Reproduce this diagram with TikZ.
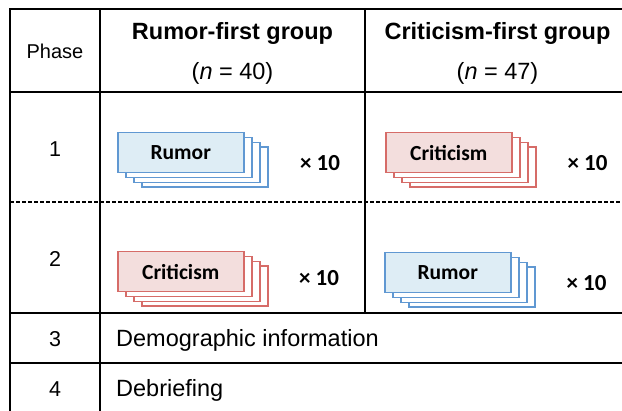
\documentclass[tikz,border=0pt]{standalone}
\usepackage{fontspec}
\setmainfont{Liberation Sans}
\newfontfamily\carlito{Carlito}
\definecolor{bluebd}{RGB}{96,152,210}
\definecolor{bluefill}{RGB}{222,237,245}
\definecolor{redbd}{RGB}{214,108,104}
\definecolor{redfill}{RGB}{243,222,221}
\tikzset{
  grid/.style={line width=1.6pt, black},
  card/.style={draw, line width=1.5pt, fill=white, anchor=north west,
    minimum width=126pt, minimum height=40pt, inner sep=0pt,
    font=\carlito\bfseries\fontsize{21.5}{24}\selectfont},
  bluecard/.style={card, draw=bluebd},
  redcard/.style={card, draw=redbd},
  times/.style={font=\carlito\bfseries\fontsize{23}{26}\selectfont, inner sep=0pt},
  head/.style={font=\bfseries\fontsize{23.5}{27}\selectfont, anchor=base, inner sep=0pt},
  txt/.style={font=\fontsize{23.5}{27}\selectfont, anchor=base, inner sep=0pt},
  num/.style={font=\fontsize{21.5}{25}\selectfont, anchor=base, inner sep=0pt},
}
\newcommand\cardstack[6]{%
  \node[#4] (#1c) at (#2+24,#3+14.4) {};
  \node[#4] (#1b) at (#2+16,#3+9.6) {};
  \node[#4] (#1a) at (#2+8,#3+4.8) {};
  \node[#4, fill=#5] (#1) at (#2,#3) {#6};
}
\begin{document}
\begin{tikzpicture}[x=1pt, y=-1pt]
\useasboundingbox (0,0) rectangle (622,411);
% table lines
\draw[grid] (10,9) -- (622,9);
\draw[grid] (10,92) -- (622,92);
\draw[grid, dash pattern=on 4pt off 2pt] (10,202) -- (622,202);
\draw[grid] (10,313) -- (622,313);
\draw[grid] (10,363) -- (622,363);
\draw[grid] (10,8.2) -- (10,411);
\draw[grid] (100,8.2) -- (100,411);
\draw[grid] (365,8.2) -- (365,313);
% header
\node[font=\fontsize{20}{24}\selectfont, anchor=base, inner sep=0pt] (phase) at (55,58.5) {Phase};
\node[head] (hrf) at (232.5,40) {Rumor-first group};
\node[txt] (nrf) at (232.5,80) {(\textit{n} = 40)};
\node[head] (hcf) at (497.5,40) {Criticism-first group};
\node[txt] (ncf) at (497.5,80) {(\textit{n} = 47)};
% phase numbers
\node[num] (p1) at (55,157) {1};
\node[num] (p2) at (55,267) {2};
\node[num] (p3) at (55,347) {3};
\node[num] (p4) at (55,397) {4};
% row 1
\cardstack{r1l}{117}{132}{bluecard}{bluefill}{Rumor}
\node[times] (x1l) at (320,163) {× 10};
\cardstack{r1r}{385}{132}{redcard}{redfill}{Criticism}
\node[times] (x1r) at (587.5,163) {× 10};
% row 2
\cardstack{r2l}{117}{251}{redcard}{redfill}{Criticism}
\node[times] (x2l) at (319,278) {× 10};
\cardstack{r2r}{384}{252}{bluecard}{bluefill}{Rumor}
\node[times] (x2r) at (586.5,283) {× 10};
% rows 3, 4
\node[txt, anchor=base west] (demo) at (116,347) {Demographic information};
\node[txt, anchor=base west] (debr) at (116,397) {Debriefing};
\end{tikzpicture}
\end{document}
